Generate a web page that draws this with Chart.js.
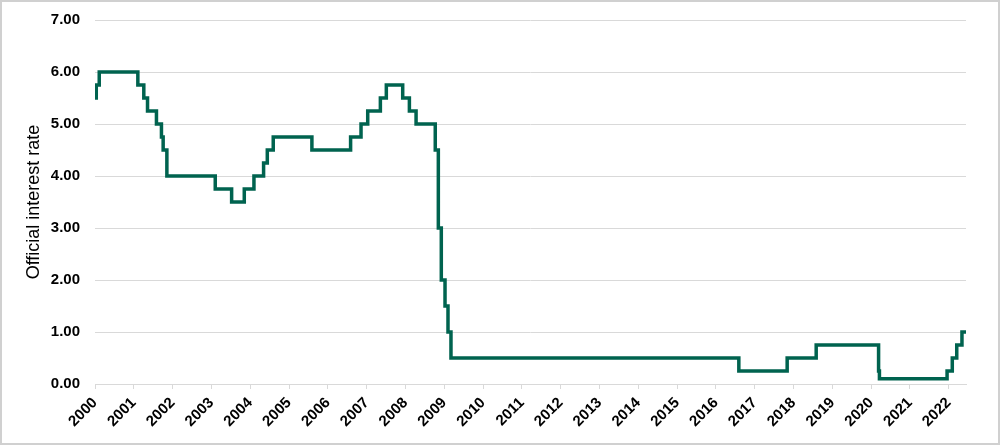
<!DOCTYPE html>
<html>
<head>
<meta charset="utf-8">
<script src="https://cdn.jsdelivr.net/npm/chart.js@4.4.0/dist/chart.umd.min.js"></script>
<style>
  html, body { margin: 0; padding: 0; background: #fff; }
  #wrap { width: 1000px; height: 445px; position: relative; }
</style>
</head>
<body>
<div id="wrap"><canvas id="rateChart"></canvas></div>
<script>
// Bank Rate change dates and the new rate from that date
var changeDates = [
    '2000-01-01', '2000-01-13', '2000-02-10', '2001-02-08', '2001-04-05', '2001-05-10',
    '2001-08-02', '2001-09-18', '2001-10-04', '2001-11-08', '2003-02-06', '2003-07-10',
    '2003-11-06', '2004-02-05', '2004-05-06', '2004-06-10', '2004-08-05', '2005-08-04',
    '2006-08-03', '2006-11-09', '2007-01-11', '2007-05-10', '2007-07-05', '2007-12-06',
    '2008-02-07', '2008-04-10', '2008-10-08', '2008-11-06', '2008-12-04', '2009-01-08',
    '2009-02-05', '2009-03-05', '2016-08-04', '2017-11-02', '2018-08-02', '2020-03-11',
    '2020-03-19', '2021-12-16', '2022-02-03', '2022-03-17', '2022-05-05', '2022-06-12'
];
var rates = [
    5.50, 5.75, 6.00, 5.75, 5.50, 5.25,
    5.00, 4.75, 4.50, 4.00, 3.75, 3.50,
    3.75, 4.00, 4.25, 4.50, 4.75, 4.50,
    4.75, 5.00, 5.25, 5.50, 5.75, 5.50,
    5.25, 5.00, 4.50, 3.00, 2.00, 1.50,
    1.00, 0.50, 0.25, 0.50, 0.75, 0.25,
    0.10, 0.25, 0.50, 0.75, 1.00, 1.00
];
var yearTicks = [2000, 2001, 2002, 2003, 2004, 2005, 2006, 2007, 2008, 2009, 2010, 2011,
    2012, 2013, 2014, 2015, 2016, 2017, 2018, 2019, 2020, 2021, 2022];
var rateTicks = [0, 1, 2, 3, 4, 5, 6, 7];

function toYear(s) {
    var d = new Date(s + 'T00:00:00Z');
    var y = d.getUTCFullYear();
    var start = Date.UTC(y, 0, 1), end = Date.UTC(y + 1, 0, 1);
    return y + (d.getTime() - start) / (end - start);
}

var points = changeDates.map(function(s, i) {
    return { x: toYear(s), y: rates[i] };
});
var xMax = points[points.length - 1].x;

var frame = {
    id: 'frame',
    afterDraw: function(chart) {
        var c = chart.ctx;
        c.save();
        c.strokeStyle = '#d0d0d0';
        c.lineWidth = 2;
        c.strokeRect(1, 1, chart.width - 2, chart.height - 2);
        c.restore();
    }
};

var ctx = document.getElementById('rateChart').getContext('2d');
new Chart(ctx, {
    type: 'line',
    data: {
        datasets: [{
            data: points,
            stepped: true,
            borderColor: '#00634f',
            borderWidth: 3.5,
            pointRadius: 0,
            fill: false
        }]
    },
    options: {
        responsive: true,
        maintainAspectRatio: false,
        animation: false,
        layout: { padding: { left: 10, right: 34, top: 20, bottom: 6 } },
        plugins: {
            legend: { display: false },
            tooltip: { enabled: false }
        },
        scales: {
            x: {
                type: 'linear',
                min: 2000,
                max: xMax,
                afterBuildTicks: function(axis) {
                    axis.ticks = yearTicks.map(function(v) { return { value: v }; });
                },
                ticks: {
                    autoSkip: false,
                    minRotation: 45,
                    maxRotation: 45,
                    color: '#000',
                    padding: 5,
                    font: { family: 'Liberation Sans, Arial, sans-serif', size: 15, weight: 'bold' },
                    callback: function(v) { return String(v); }
                },
                grid: { drawOnChartArea: false, color: '#d9d9d9', tickLength: 5 },
                border: { display: true, color: '#d9d9d9', width: 1 },
                afterFit: function(axis) { axis.height = 55; }
            },
            y: {
                min: 0,
                max: 7,
                afterBuildTicks: function(axis) {
                    axis.ticks = rateTicks.map(function(v) { return { value: v }; });
                },
                ticks: {
                    color: '#000',
                    padding: 15,
                    font: { family: 'Liberation Sans, Arial, sans-serif', size: 15, weight: 'bold' },
                    callback: function(v) { return v.toFixed(2); }
                },
                grid: { color: '#d9d9d9', lineWidth: 1, drawTicks: false },
                border: { display: false },
                title: {
                    display: true,
                    text: 'Official interest rate',
                    color: '#000',
                    padding: { top: 13, bottom: 0 },
                    font: { family: 'Liberation Sans, Arial, sans-serif', size: 18 }
                },
                afterFit: function(axis) {
                    axis.width = 85;
                    axis.paddingTop = 0;
                    axis.paddingBottom = 0;
                }
            }
        }
    },
    plugins: [frame]
});
</script>
</body>
</html>
